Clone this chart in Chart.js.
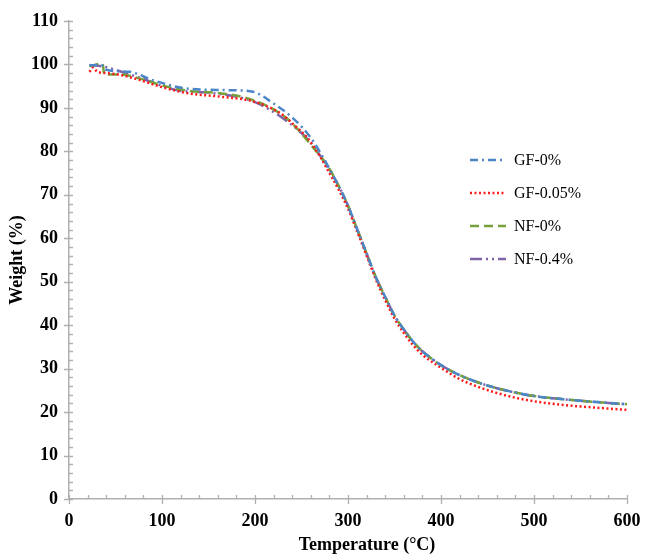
<!DOCTYPE html>
<html>
<head>
<meta charset="utf-8">
<script src="https://cdn.jsdelivr.net/npm/chart.js@4.4.1/dist/chart.umd.min.js"></script>
<style>
  html, body { margin: 0; padding: 0; background: #fff; }
  #wrap { width: 646px; height: 555px; }
</style>
</head>
<body>
<div id="wrap"><canvas id="tgaChart" width="646" height="555"></canvas></div>
<script>
// TGA curves: temperature (°C) and weight (%)
const gf0Temp = [22, 35, 40, 65, 90, 125, 170, 198, 220, 241, 259, 270, 280, 290, 300, 310, 320, 330, 340, 350, 360, 370, 380, 400, 420, 440, 460, 480, 500, 520, 550, 600];
const gf0Weight = [99.8, 99.9, 98.8, 98.3, 96.4, 94.5, 94.1, 93.7, 91.0, 87.6, 83.4, 79.8, 76.0, 72.0, 67.5, 62.0, 56.5, 51.0, 46.5, 42.2, 39.0, 36.2, 34.0, 30.8, 28.5, 26.8, 25.5, 24.5, 23.7, 23.2, 22.6, 21.8];

const gf005Temp = [22, 26, 30, 40, 55, 75, 98, 127, 162, 198, 227, 245, 256, 270, 280, 290, 300, 310, 320, 330, 340, 350, 360, 370, 380, 400, 420, 440, 460, 480, 500, 520, 550, 600];
const gf005Weight = [98.3, 99.3, 98.4, 98.0, 97.6, 96.5, 94.9, 93.4, 92.6, 91.5, 88.8, 85.5, 83.2, 78.8, 75.0, 71.2, 66.8, 61.5, 56.0, 50.5, 45.8, 41.5, 38.2, 35.4, 33.2, 30.2, 27.6, 25.8, 24.4, 23.3, 22.5, 21.9, 21.3, 20.5];

const nf0Temp = [22, 36, 38, 55, 80, 105, 130, 162, 198, 234, 262, 280, 290, 300, 310, 320, 330, 340, 350, 360, 370, 380, 400, 420, 440, 460, 480, 500, 520, 550, 600];
const nf0Weight = [99.6, 100.2, 97.7, 97.7, 96.5, 94.9, 93.9, 93.4, 91.8, 87.6, 81.0, 76.0, 72.0, 67.5, 62.0, 56.5, 51.0, 46.5, 42.2, 39.0, 36.2, 34.0, 30.8, 28.5, 26.8, 25.5, 24.5, 23.7, 23.2, 22.6, 21.8];

const nf04Temp = [22, 35, 75, 116, 155, 198, 234, 259, 280, 290, 300, 310, 320, 330, 340, 350, 360, 370, 380, 400, 420, 440, 460, 480, 500, 520, 550, 600];
const nf04Weight = [99.9, 99.6, 97.0, 94.1, 93.4, 91.5, 87.0, 82.2, 75.7, 72.0, 67.5, 62.0, 56.5, 51.0, 46.5, 42.2, 39.0, 36.2, 34.0, 30.8, 28.5, 26.8, 25.5, 24.5, 23.7, 23.2, 22.6, 21.8];

const seriesNames = ["GF-0%", "GF-0.05%", "NF-0%", "NF-0.4%"];
const seriesColors = ["#4a86c8", "#ff1a1a", "#76a03c", "#7f63a8"];
const seriesDash = [[8, 4, 2, 4], [2, 2.5], [9, 5], [12, 4, 2, 4, 2, 4]];

const xTicks = [0, 100, 200, 300, 400, 500, 600];
const yTicks = [0, 10, 20, 30, 40, 50, 60, 70, 80, 90, 100, 110];

function toPoints(t, w) {
    return t.map((v, i) => ({ x: v, y: w[i] }));
}

const allTemps = [gf0Temp, gf005Temp, nf0Temp, nf04Temp];
const allWeights = [gf0Weight, gf005Weight, nf0Weight, nf04Weight];

const datasets = seriesNames.map((name, i) => ({
    label: name,
    data: toPoints(allTemps[i], allWeights[i]),
    borderColor: seriesColors[i],
    borderDash: seriesDash[i],
    borderWidth: 2.5,
    pointRadius: 0,
    fill: false,
    cubicInterpolationMode: "monotone"
}));

const axisGrey = "#b0b0b0";

// tick marks like the original: major crossing the axis, minor on the inside
const tickMarks = {
    id: "tickMarks",
    afterDraw(chart) {
        const ctx = chart.ctx;
        const xs = chart.scales.x, ys = chart.scales.y;
        const x0 = xs.left, y0 = ys.bottom;
        ctx.save();
        ctx.strokeStyle = axisGrey;
        ctx.lineWidth = 1.3;
        ctx.beginPath();
        for (let v = 0; v <= 110; v += 2) {
            const p = Math.round(ys.getPixelForValue(v)) + 0.5;
            if (v % 10 === 0) { ctx.moveTo(x0 - 5, p); ctx.lineTo(x0 + 4, p); }
            else { ctx.moveTo(x0, p); ctx.lineTo(x0 + 4, p); }
        }
        for (let v = 0; v <= 600; v += 20) {
            const p = Math.round(xs.getPixelForValue(v)) + 0.5;
            if (v % 100 === 0) { ctx.moveTo(p, y0 - 4); ctx.lineTo(p, y0 + 5); }
            else { ctx.moveTo(p, y0 - 4); ctx.lineTo(p, y0); }
        }
        ctx.stroke();

        // x axis title
        ctx.fillStyle = "#000";
        ctx.font = "bold 18px 'Liberation Serif', 'Times New Roman', serif";
        ctx.textAlign = "center";
        ctx.textBaseline = "middle";
        ctx.fillText("Temperature (°C)", 367, 545);

        // legend
        ctx.font = "16px 'Liberation Serif', 'Times New Roman', serif";
        ctx.textAlign = "left";
        const legendY = [160, 193, 226, 259];
        chart.data.datasets.forEach((ds, i) => {
            const y = legendY[i];
            ctx.strokeStyle = ds.borderColor;
            ctx.lineWidth = 2.5;
            ctx.setLineDash(ds.borderDash);
            ctx.beginPath();
            ctx.moveTo(470, y);
            ctx.lineTo(506, y);
            ctx.stroke();
            ctx.setLineDash([]);
            ctx.fillText(ds.label, 514, y + 1);
        });
        ctx.restore();
    }
};

new Chart(document.getElementById("tgaChart").getContext("2d"), {
    type: "line",
    data: { datasets: datasets },
    options: {
        responsive: false,
        animation: false,
        layout: { padding: { left: 0, right: 19, top: 21, bottom: 0 } },
        plugins: { legend: { display: false }, tooltip: { enabled: false } },
        scales: {
            x: {
                type: "linear",
                min: 0,
                max: 600,
                afterBuildTicks: (s) => { s.ticks = xTicks.map(v => ({ value: v })); },
                afterFit: (s) => { s.height = 56; s.paddingLeft = 0; s.paddingRight = 0; },
                grid: { drawOnChartArea: false, drawTicks: false },
                border: { color: axisGrey, width: 1.5 },
                ticks: {
                    padding: 12,
                    color: "#000",
                    font: { family: "'Liberation Serif', 'Times New Roman', serif", size: 18, weight: "bold" }
                }
            },
            y: {
                min: 0,
                max: 110,
                afterBuildTicks: (s) => { s.ticks = yTicks.map(v => ({ value: v })); },
                afterFit: (s) => { s.width = 69; s.paddingTop = 0; s.paddingBottom = 0; },
                grid: { drawOnChartArea: false, drawTicks: false },
                border: { color: axisGrey, width: 1.5 },
                ticks: {
                    padding: 11,
                    color: "#000",
                    font: { family: "'Liberation Serif', 'Times New Roman', serif", size: 18, weight: "bold" }
                },
                title: {
                    display: true,
                    text: "Weight (%)",
                    color: "#000",
                    padding: { top: 7, bottom: 0 },
                    font: { family: "'Liberation Serif', 'Times New Roman', serif", size: 18, weight: "bold" }
                }
            }
        }
    },
    plugins: [tickMarks]
});
</script>
</body>
</html>
